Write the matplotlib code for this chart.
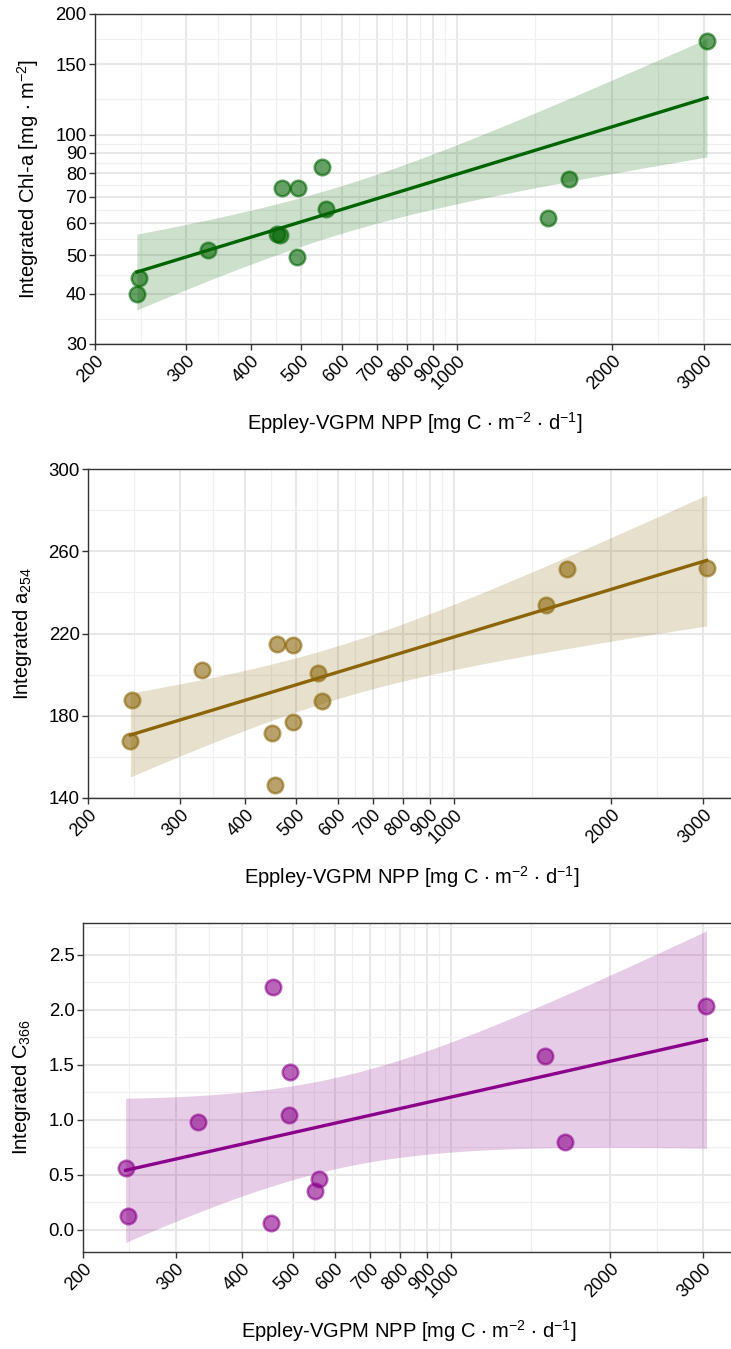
import numpy as np
import matplotlib
matplotlib.use("Agg")
import matplotlib.pyplot as plt
from matplotlib.ticker import FixedLocator, NullFormatter

plt.rcParams["font.family"] = ["Liberation Sans", "DejaVu Sans"]
plt.rcParams["mathtext.default"] = "regular"

# data
npp = [241, 243, 331, 450, 455, 459, 492, 494, 550, 560, 1503, 1645, 3046]
chla = [40.1, 43.8, 51.5, 56.4, 56.0, 73.7, 49.5, 73.7, 82.8, 65.3, 61.8, 77.4, 171]
a254 = [167.9, 187.7, 202.3, 171.5, 146.3, 214.9, 176.8, 214.6, 200.6, 187.2, 233.9, 251.4, 252]
c366 = [0.561, 0.127, 0.985, np.nan, 0.061, 2.206, 1.043, 1.434, 0.355, 0.464, 1.585, 0.797, 2.039]

x_ticks = [200, 300, 400, 500, 600, 700, 800, 900, 1000, 2000, 3000]
chla_ticks = [30, 40, 50, 60, 70, 80, 90, 100, 150, 200]
a254_ticks = [140, 180, 220, 260, 300]
c366_ticks = [0.0, 0.5, 1.0, 1.5, 2.0, 2.5]

t95 = {10: 2.228, 11: 2.201}

W, H = 731, 1349
fig = plt.figure(figsize=(W / 100, H / 100), dpi=100)


def lm_band(x, y, logy):
    x = np.asarray(x, float)
    y = np.asarray(y, float)
    ok = ~np.isnan(y)
    lx = np.log10(x[ok])
    ly = np.log10(y[ok]) if logy else y[ok]
    n = len(lx)
    b, a = np.polyfit(lx, ly, 1)
    res = ly - (a + b * lx)
    s = np.sqrt(np.sum(res ** 2) / (n - 2))
    gx = np.linspace(lx.min(), lx.max(), 80)
    fit = a + b * gx
    se = s * np.sqrt(1 / n + (gx - lx.mean()) ** 2 / np.sum((lx - lx.mean()) ** 2))
    lo, hi = fit - t95[n - 2] * se, fit + t95[n - 2] * se
    if logy:
        fit, lo, hi = 10 ** fit, 10 ** lo, 10 ** hi
    return 10 ** gx, fit, lo, hi


def geo_mid(t):
    t = np.asarray(t, float)
    return np.sqrt(t[:-1] * t[1:])


def panel(px, y, color, ylab, yticks, ylim, logy, ymin_ticks, ylab_x):
    l, top, bot = px
    ax = fig.add_axes([l / W, 1 - bot / H, (735 - l) / W, (bot - top) / H])
    ax.set_xscale("log")
    if logy:
        ax.set_yscale("log")
    ax.set_xlim(200, 3450)
    ax.set_ylim(*ylim)
    ax.xaxis.set_major_locator(FixedLocator(x_ticks))
    ax.xaxis.set_minor_locator(FixedLocator(geo_mid(x_ticks)))
    ax.yaxis.set_major_locator(FixedLocator(yticks))
    ax.yaxis.set_minor_locator(FixedLocator(ymin_ticks))
    ax.xaxis.set_minor_formatter(NullFormatter())
    ax.yaxis.set_minor_formatter(NullFormatter())
    ax.set_xticklabels([str(v) for v in x_ticks], rotation=45, ha="right",
                       rotation_mode="anchor", fontsize=13)
    if isinstance(yticks[0], float):
        ax.set_yticklabels([f"{v:.1f}" for v in yticks], fontsize=13.4)
    else:
        ax.set_yticklabels([str(v) for v in yticks], fontsize=13.4)
    ax.grid(which="major", color="#e8e8e8", lw=1.5, zorder=0)
    ax.grid(which="minor", color="#f0f0f0", lw=0.9, zorder=0)
    ax.set_axisbelow(True)
    ax.tick_params(which="major", length=4, width=1, color="#333333",
                   labelcolor="black", pad=2)
    ax.tick_params(which="minor", length=0)
    for s in ax.spines.values():
        s.set_color("#333333")
        s.set_linewidth(1)
    ax.spines["right"].set_visible(False)

    gx, fit, lo, hi = lm_band(npp, y, logy)
    ax.fill_between(gx, lo, hi, color=color, alpha=0.2, lw=0, zorder=2)
    ax.plot(gx, fit, color=color, lw=2.4, zorder=3)
    ax.scatter(npp, y, s=125, facecolor=color, edgecolor=color, linewidths=1.8,
               alpha=0.6, zorder=4)

    ax.set_ylabel(ylab, fontsize=14.5, va="center")
    ax.yaxis.set_label_coords(ylab_x, 0.5)
    ax.set_xlabel(r"Eppley-VGPM NPP [mg C $\cdot$ m$^{-2}$ $\cdot$ d$^{-1}$]",
                  fontsize=14.5, va="center")
    ax.xaxis.set_label_coords(0.5, -0.24)
    return ax


panel((95, 14, 344), chla, "#006400", r"Integrated Chl-a [mg $\cdot$ m$^{-2}$]",
      chla_ticks, (30, 200), True, geo_mid(chla_ticks), -0.105)
panel((88, 469, 798), a254, "#8B6508", r"Integrated a$_{254}$",
      a254_ticks, (140, 300), False, [160, 200, 240, 280], -0.102)
panel((83, 923, 1252), c366, "#8B008B", r"Integrated C$_{366}$",
      c366_ticks, (-0.2, 2.79), False, [0.25, 0.75, 1.25, 1.75, 2.25, 2.75], -0.094)

fig.savefig("out.png", dpi=100)
